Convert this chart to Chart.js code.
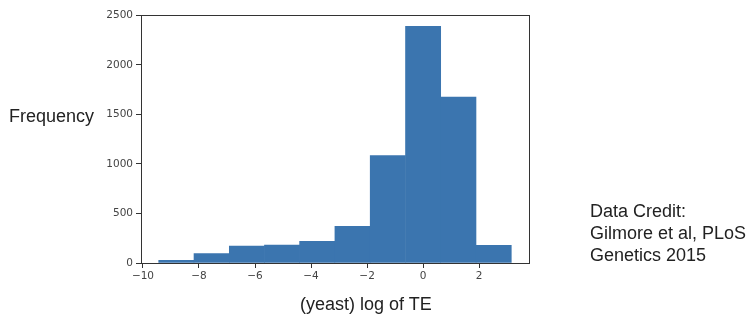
<!DOCTYPE html>
<html>
<head>
<meta charset="utf-8">
<style>
  body { margin: 0; background: #fff; }
  #wrap { position: relative; width: 753px; height: 322px; font-family: "Liberation Sans", Arial, sans-serif; color: #222; }
  canvas { position: absolute; left: 0; top: 0; }
  .lbl { position: absolute; font-size: 18px; white-space: nowrap; }
</style>
</head>
<body>
<div id="wrap">
  <canvas id="myChart" width="753" height="322"></canvas>
  <div class="lbl" style="left:9px; top:106px;">Frequency</div>
  <div class="lbl" style="left:300px; top:294px;">(yeast) log of TE</div>
  <div class="lbl" style="left:590px; top:200px; line-height:22px;">Data Credit:<br>Gilmore et al, PLoS<br>Genetics 2015</div>
</div>

<script src="https://cdn.jsdelivr.net/npm/chart.js@4.4.0/dist/chart.umd.min.js"></script>
<script>
  // histogram of log TE
  const binEdges = [-9.44, -8.18, -6.92, -5.66, -4.41, -3.15, -1.89, -0.63, 0.63, 1.89, 3.15]
  const counts = [27, 95, 171, 181, 219, 370, 1086, 2390, 1677, 178]
  const xTicks = [-10, -8, -6, -4, -2, 0, 2]
  const yTicks = [0, 500, 1000, 1500, 2000, 2500]

  const bars = counts.map((c, i) => ({ x: (binEdges[i] + binEdges[i + 1]) / 2, y: c }))

  const frame = {
    id: 'frame',
    afterDraw(chart) {
      const { ctx, chartArea: a } = chart
      ctx.save()
      ctx.strokeStyle = '#333'
      ctx.lineWidth = 1
      ctx.strokeRect(Math.round(a.left) + 0.5, Math.round(a.top) + 0.5, Math.round(a.right - a.left), Math.round(a.bottom - a.top))
      ctx.restore()
    }
  }

  const tickFont = { family: 'DejaVu Sans', size: 10.5 }
  const fmt = v => v < 0 ? '\u2212' + Math.abs(v) : String(v)

  new Chart(document.getElementById('myChart'), {
    type: 'bar',
    data: {
      datasets: [{
        data: bars,
        backgroundColor: '#3b75af',
        borderWidth: 0,
        barPercentage: 1,
        categoryPercentage: 1
      }]
    },
    options: {
      responsive: false,
      animation: false,
      layout: { padding: { left: 101, right: 224, top: 15, bottom: 39 } },
      plugins: { legend: { display: false }, tooltip: { enabled: false } },
      scales: {
        x: {
          type: 'linear',
          offset: false,
          min: -10.07,
          max: 3.78,
          afterBuildTicks: s => { s.ticks = xTicks.map(v => ({ value: v })) },
          afterFit: s => { s.height = 20 },
          border: { display: false },
          grid: { offset: false, drawOnChartArea: false, tickLength: 5, color: '#333' },
          ticks: { font: tickFont, color: '#444', padding: 2, maxRotation: 0, callback: fmt }
        },
        y: {
          min: 0,
          max: 2505,
          afterBuildTicks: s => { s.ticks = yTicks.map(v => ({ value: v })) },
          afterFit: s => { s.width = 40 },
          border: { display: false },
          grid: { drawOnChartArea: false, tickLength: 5, color: '#333' },
          ticks: { font: tickFont, color: '#444', padding: 3, callback: fmt }
        }
      }
    },
    plugins: [frame]
  })
</script>
</body>
</html>
